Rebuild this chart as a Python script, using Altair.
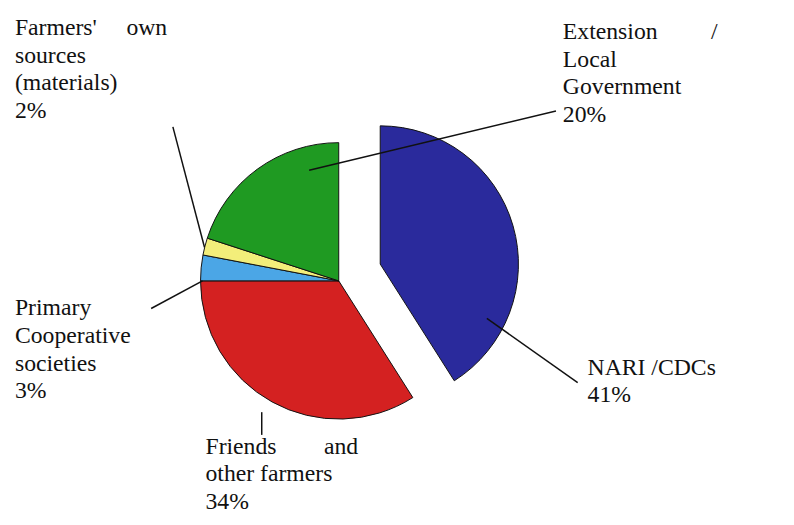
import altair as alt
import pandas as pd

NB = "\u00a0"
labels = ["NARI /CDCs", "Friends and other farmers", "Primary Cooperative societies",
          "Farmers' own sources (materials)", "Extension / Local Government"]
text_lines = [["NARI /CDCs", "41%"], ["Friends" + NB * 8 + "and", "other farmers", "34%"],
              ["Primary", "Cooperative", "societies", "3%"],
              ["Farmers'" + NB * 5 + "own", "sources", "(materials)", "2%"],
              ["Extension" + NB * 9 + "/", "Local", "Government", "20%"]]
values = [41, 34, 3, 2, 20]
colors = ["#2a2a9c", "#d42121", "#4ba6e6", "#f3ee7a", "#1f9a22"]

df = pd.DataFrame({"source": labels, "value": values})
df["end"] = df["value"].cumsum()
df["start"] = df["end"] - df["value"]

# label placement (layout only)
label_pos = [(582, 338), (195, 418), (2, 278), (2, -6), (557, -2)]
leaders = [[(480, 300), (572, 365)], [(252, 395), (252, 418)], [(192, 262), (140, 290)],
           [(194, 228), (162, 106)], [(300, 150), (550, 90)]]

tscale = alt.Scale(domain=[0, 100], range=[0, 6.283185307])
col = alt.Color("source:N", scale=alt.Scale(domain=labels, range=colors), legend=None)
base = alt.Chart(df)

layers = [
    base.transform_filter(alt.datum.source != labels[0]).mark_arc(
        radius=140, stroke="#111", strokeWidth=1, x=330, y=262
    ).encode(theta=alt.Theta("start:Q", scale=tscale), theta2="end:Q", color=col),
    base.transform_filter(alt.datum.source == labels[0]).mark_arc(
        radius=140, stroke="#111", strokeWidth=1, x=372, y=245
    ).encode(theta=alt.Theta("start:Q", scale=tscale), theta2="end:Q", color=col),
]
for lines, (lx, ly), seg in zip(text_lines, label_pos, leaders):
    (x1, y1), (x2, y2) = seg
    layers.append(base.transform_filter(alt.datum.source == labels[0]).mark_rule(
        color="#111", strokeWidth=1.5).encode(
        x=alt.value(x1), y=alt.value(y1), x2=alt.value(x2), y2=alt.value(y2)))
    layers.append(base.transform_filter(alt.datum.source == labels[0]).mark_text(
        font="Liberation Serif", fontSize=24, x=lx, y=ly, align="left", baseline="top",
        lineHeight=28, text=lines, color="#111").encode(opacity=alt.value(1)))

chart = alt.layer(*layers).properties(width=778, height=509).configure_view(strokeWidth=0)
chart.save("out.html", embed_options={"renderer": "svg", "actions": False})
